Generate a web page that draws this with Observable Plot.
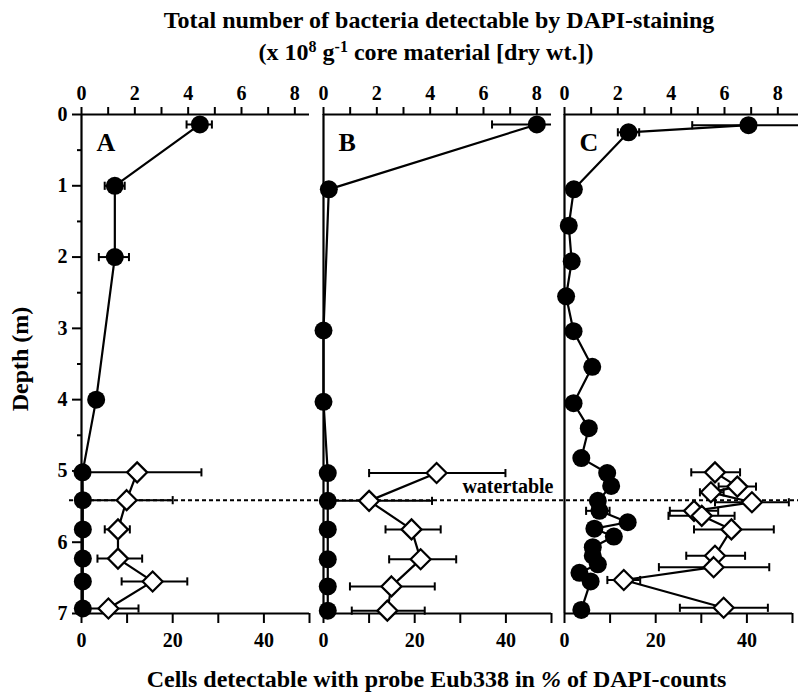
<!DOCTYPE html>
<html><head><meta charset="utf-8">
<script src="https://cdn.jsdelivr.net/npm/d3@7"></script>
<script src="https://cdn.jsdelivr.net/npm/@observablehq/plot@0.6"></script>
<style>
body{margin:0;background:#fff;}
#chart{position:relative;width:798px;height:692px;font-family:'Liberation Serif','Times New Roman',serif;font-weight:bold;color:#000;overflow:hidden;}
.lbl{position:absolute;white-space:nowrap;font-size:24px;line-height:24px;}
.sup{font-size:16px;position:relative;top:-8px;}
.layer{position:absolute;left:0;top:68px;}
</style></head><body>
<div id="chart">
  <div class="lbl" style="left:0;width:878px;text-align:center;top:8px">Total number of bacteria detectable by DAPI-staining</div>
  <div class="lbl" style="left:0;width:852px;text-align:center;top:40px">(x 10<span class="sup">8</span> g<span class="sup">-1</span> core material [dry wt.])</div>
  <div class="lbl" style="left:0;width:873px;text-align:center;top:667px">Cells detectable with probe Eub338 in <i>%</i> of DAPI-counts</div>
  <div class="lbl" style="left:20px;top:359px;transform:translate(-50%,-50%) rotate(-90deg)">Depth (m)</div>
</div>
<script>
// ---------- data ----------
const panelNames = ["A", "B", "C"];
const watertableDepth = 5.41;
const watertableLabel = "watertable";

const depthTicks = [0, 1, 2, 3, 4, 5, 6, 7];
const depthMinorTicks = [0.5, 1.5, 2.5, 3.5, 4.5, 5.5, 6.5];
const dapiTicks = [0, 1, 2, 3, 4, 5, 6, 7, 8];
const dapiTickLabels = [0, 2, 4, 6, 8];
const eubTicks = [0, 10, 20, 30, 40, 50];
const eubTickLabels = [0, 20, 40];

// Panel A — DAPI counts (x10^8 g-1)
const aDapiDepth = [0.14, 1.0, 2.0, 4.0, 5.02, 5.41, 5.82, 6.23, 6.55, 6.93];
const aDapi      = [4.44, 1.25, 1.25, 0.55, 0.04, 0.05, 0.05, 0.05, 0.05, 0.05];
const aDapiLo    = [3.94, 0.87, 0.65, null, null, null, null, null, null, null];
const aDapiHi    = [4.89, 1.62, 1.78, null, null, null, null, null, null, null];
// Panel A — Eub338 (% of DAPI)
const aEubDepth = [5.02, 5.41, 5.82, 6.23, 6.55, 6.93];
const aEub      = [12.2, 9.9, 8.0, 8.0, 15.6, 5.9];
const aEubLo    = [0, 0, 5.1, 3.5, 8.8, 0.9];
const aEubHi    = [26.3, 20.0, 10.6, 13.3, 23.2, 12.5];

// Panel B
const bDapiDepth = [0.14, 1.05, 3.03, 4.03, 5.03, 5.42, 5.82, 6.24, 6.62, 6.96];
const bDapi      = [8.0, 0.2, 0.0, 0.0, 0.16, 0.16, 0.16, 0.16, 0.16, 0.16];
const bDapiLo    = [6.32, null, null, null, null, null, null, null, null, null];
const bDapiHi    = [9.68, null, null, null, null, null, null, null, null, null];
const bEubDepth = [5.03, 5.42, 5.82, 6.24, 6.62, 6.96];
const bEub      = [24.8, 10.0, 19.3, 21.3, 14.9, 14.0];
const bEubLo    = [10.0, 0.5, 13.6, 14.4, 5.8, 6.2];
const bEubHi    = [39.9, 23.8, 25.7, 29.1, 24.4, 22.2];

// Panel C
const cDapiDepth = [0.15, 0.25, 1.05, 1.56, 2.06, 2.55, 3.04, 3.54, 4.05, 4.4, 4.82, 5.03, 5.21, 5.42, 5.56, 5.72, 5.81, 5.92, 6.07, 6.19, 6.31, 6.43, 6.55, 6.95];
const cDapi      = [6.9, 2.4, 0.35, 0.16, 0.27, 0.06, 0.34, 1.04, 0.34, 0.91, 0.63, 1.6, 1.75, 1.25, 1.31, 2.37, 1.12, 1.85, 1.06, 1.06, 1.25, 0.56, 0.98, 0.63];
const cDapiLo    = [4.79, 2.0, null, null, null, null, null, null, null, null, null, null, null, null, 0.81, null, null, null, null, null, null, null, null, null];
const cDapiHi    = [9.01, 2.8, null, null, null, null, null, null, null, null, null, null, null, null, 1.69, null, null, null, null, null, null, null, null, null];
const cEubDepth = [5.02, 5.22, 5.30, 5.44, 5.56, 5.63, 5.82, 6.19, 6.35, 6.53, 6.92];
const cEub      = [33.0, 37.9, 32.1, 41.1, 28.4, 30.1, 36.6, 33.0, 32.7, 13.0, 34.9];
const cEubLo    = [27.8, 33.8, 29.7, 33.0, 23.1, 22.8, 28.4, 26.7, 20.7, 9.4, 25.3];
const cEubHi    = [38.5, 42.0, 34.9, 49.2, 33.7, 37.3, 45.9, 39.6, 44.9, 16.6, 44.6];

// ---------- build ----------
const rows = (depth, value, lo, hi) => depth.map((d, i) => ({depth: d, value: value[i], lo: lo[i], hi: hi[i]}));
const panels = [
  {name: panelNames[0], dapi: rows(aDapiDepth, aDapi, aDapiLo, aDapiHi), eub: rows(aEubDepth, aEub, aEubLo, aEubHi)},
  {name: panelNames[1], dapi: rows(bDapiDepth, bDapi, bDapiLo, bDapiHi), eub: rows(bEubDepth, bEub, bEubLo, bEubHi)},
  {name: panelNames[2], dapi: rows(cDapiDepth, cDapi, cDapiLo, cDapiHi), eub: rows(cEubDepth, cEub, cEubLo, cEubHi)}
];

const W = 798, SVG_H = 585, MT = 46, MB = 40;
const layout = [
  {left: 81, width: 228, dapiWidth: 228},
  {left: 323, width: 228, dapiWidth: 228},
  {left: 564, width: 228, dapiWidth: 234}
];
const DAPI_PER_PX = 8.55 / 228;
const FONT = "'Liberation Serif','Times New Roman',serif";
const style = {fontFamily: FONT, fontWeight: "bold", fontSize: "20px", color: "black", background: "transparent", overflow: "visible"};
const cap = {draw(ctx, size) { const h = Math.sqrt(size); ctx.moveTo(0, -h); ctx.lineTo(0, h); }};
const yScale = {domain: [0, 7], reverse: true};

function errorMarks(data, clip) {
  const e = data.filter(d => d.lo != null);
  return [
    Plot.ruleY(e, {y: "depth", x1: "lo", x2: "hi", stroke: "black", strokeWidth: 2, clip}),
    Plot.dot(e, {x: "lo", y: "depth", symbol: cap, r: 2.3, stroke: "black", strokeWidth: 2, clip}),
    Plot.dot(e, {x: "hi", y: "depth", symbol: cap, r: 2.3, stroke: "black", strokeWidth: 2, clip})
  ];
}

const chart = document.getElementById("chart");
function addLayer(svg) { svg.classList.add("layer"); chart.appendChild(svg); }

// watertable dashed line (spans all panels)
addLayer(Plot.plot({
  width: W, height: SVG_H, marginTop: MT, marginBottom: MB, marginLeft: 69, marginRight: 0,
  y: {...yScale, axis: null}, style,
  marks: [Plot.ruleY([watertableDepth], {stroke: "black", strokeWidth: 2, strokeDasharray: "4,3"})]
}));

// Eub338 layers (bottom axis)
panels.forEach((p, i) => {
  const L = layout[i];
  addLayer(Plot.plot({
    width: W, height: SVG_H, marginTop: MT, marginBottom: MB,
    marginLeft: L.left, marginRight: W - L.left - L.width,
    x: {domain: [0, 50]}, y: {...yScale, axis: null}, style,
    marks: [
      Plot.ruleY([7], {stroke: "black", strokeWidth: 2.2}),
      Plot.axisX({anchor: "bottom", ticks: eubTicks, tickFormat: d => eubTickLabels.includes(d) ? String(d) : "",
        tickSize: 10, tickPadding: 9, fontSize: 20, fontWeight: "bold", strokeWidth: 2, label: null}),
      ...errorMarks(p.eub, false),
      Plot.line(p.eub, {x: "value", y: "depth", stroke: "black", strokeWidth: 2.2}),
      Plot.dot(p.eub, {x: "value", y: "depth", symbol: "diamond2", r: 9, fill: "white", stroke: "black", strokeWidth: 2.2}),
      ...(i === 1 ? [Plot.text([watertableDepth], {y: d => d, text: () => watertableLabel, frameAnchor: "right",
        textAnchor: "end", lineAnchor: "bottom", dx: 2, dy: -7, fontSize: 20, fontWeight: "bold"})] : [])
    ]
  }));
});

// DAPI layers (top axis)
panels.forEach((p, i) => {
  const L = layout[i];
  addLayer(Plot.plot({
    width: W, height: SVG_H, marginTop: MT, marginBottom: MB,
    marginLeft: L.left, marginRight: W - L.left - L.dapiWidth,
    x: {domain: [0, L.dapiWidth * DAPI_PER_PX]},
    y: i === 0 ? yScale : {...yScale, axis: null}, style,
    marks: [
      Plot.ruleY([0], {stroke: "black", strokeWidth: 2.2}),
      Plot.ruleX([0], {stroke: "black", strokeWidth: 2.2}),
      Plot.axisX({anchor: "top", ticks: dapiTicks, tickFormat: d => dapiTickLabels.includes(d) ? String(d) : "",
        tickSize: 8, tickPadding: 7, fontSize: 20, fontWeight: "bold", strokeWidth: 2, label: null}),
      ...(i === 0 ? [
        Plot.axisY({ticks: depthTicks, tickFormat: d => String(d), tickSize: 9, tickPadding: 5, fontSize: 20, fontWeight: "bold", strokeWidth: 2, label: null}),
        Plot.axisY({ticks: depthMinorTicks, tickSize: 4, tickFormat: () => "", strokeWidth: 2, label: null})
      ] : []),
      ...errorMarks(p.dapi, true),
      Plot.line(p.dapi, {x: "value", y: "depth", stroke: "black", strokeWidth: 2.2}),
      Plot.dot(p.dapi, {x: "value", y: "depth", r: 9, fill: "black"}),
      Plot.text([p.name], {text: d => d, frameAnchor: "top-left", textAnchor: "start", lineAnchor: "top",
        dx: 15, dy: 18, fontSize: 26, fontWeight: "bold"})
    ]
  }));
});
</script>
</body></html>
